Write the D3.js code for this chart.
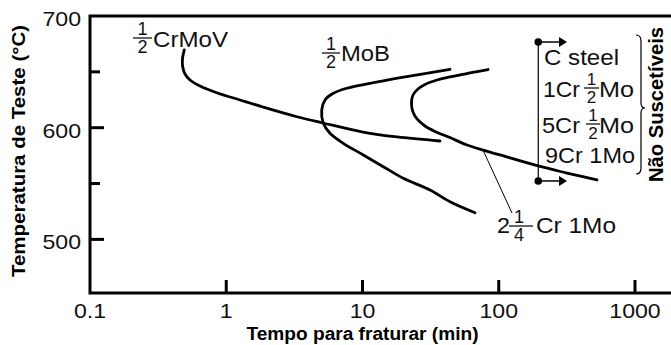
<!DOCTYPE html>
<html><head><meta charset="utf-8">
<script src="https://cdn.jsdelivr.net/npm/d3@7"></script>
<style>html,body{margin:0;padding:0;background:#fff;}svg{display:block;font-family:"Liberation Sans",Arial,sans-serif;}</style>
</head><body>
<svg id="chart" width="671" height="345"></svg>
<script>
// ---- data (time in min, temperature in °C) ----
const crmovTime = [0.492, 0.478, 0.479, 0.498, 0.542, 0.642, 0.851, 1.262, 1.861, 3.306, 5.13, 10.09, 17.92, 37.05];
const crmovTemp = [669.6, 662.4, 654.6, 648.1, 642.7, 637.3, 631.3, 624.8, 618.5, 609.8, 604.2, 596.1, 591.7, 588.1];

const mobTime = [43.87, 21.11, 11.35, 7.66, 6.11, 5.31, 5.02, 5.16, 5.77, 7.23, 10.14, 14.21, 19.93, 31.29, 43.87, 66.94];
const mobTemp = [652.3, 645.7, 639.7, 635.3, 630.8, 624.8, 615.8, 603.9, 595.0, 586.0, 575.6, 565.1, 554.7, 544.2, 533.7, 523.9];

const crmoTime = [83.4, 61.5, 43.87, 35.22, 28.75, 25.55, 23.47, 22.88, 23.47, 25.12, 28.75, 34.05, 43.87, 58.48, 102.1, 200.9, 316.9, 526.2];
const crmoTemp = [652.1, 649.0, 645.4, 642.7, 638.7, 634.6, 629.3, 621.2, 614.1, 607.8, 601.5, 596.6, 591.2, 584.5, 575.6, 565.3, 559.4, 553.2];

// legend bracket (time, temperatures) and leader line
const bracketTime = 195, bracketArrowTime = 317;
const bracketTemps = [676.7, 552.3];
const leaderTime = [76.6, 125.1];
const leaderTemp = [580.0, 523.6];

const xTickValues = [0.1, 1, 10, 100, 1000];
const xTickLabels = ["0.1", "1", "10", "100", "1000"];
const yTickValues = [500, 550, 600, 650, 700];
const yLabelValues = [500, 600, 700];
const yTickLabels = ["500", "600", "700"];

// ---- scales ----
const svg = d3.select("#chart");
const x = d3.scaleLog().domain([0.1, 1000]).range([90, 635]);
const y = d3.scaleLinear().domain([452, 700]).range([293, 16]);
const xEnd = 672;
const ink = "#111";
const STRETCH = 1.1;
function widen(sel, f) {
  sel.each(function () {
    const len = this.getComputedTextLength();
    d3.select(this).attr("textLength", len * (f || STRETCH)).attr("lengthAdjust", "spacingAndGlyphs");
  });
  return sel;
}

// ---- curves ----
const line = d3.line().x(d => x(d[0])).y(d => y(d[1])).curve(d3.curveCatmullRom.alpha(0.5));
const series = [
  d3.zip(crmovTime, crmovTemp),
  d3.zip(mobTime, mobTemp),
  d3.zip(crmoTime, crmoTemp)
];
svg.append("g").selectAll("path").data(series).join("path")
  .attr("d", line).attr("fill", "none").attr("stroke", "#000")
  .attr("stroke-width", 2.8).attr("stroke-linecap", "round").attr("stroke-linejoin", "round");

// leader line
svg.append("line")
  .attr("x1", x(leaderTime[0])).attr("y1", y(leaderTemp[0]))
  .attr("x2", x(leaderTime[1])).attr("y2", y(leaderTemp[1]))
  .attr("stroke", "#000").attr("stroke-width", 1);

// ---- axes frame ----
const frame = svg.append("g").attr("stroke", "#000").attr("stroke-width", 3).attr("fill", "none");
frame.append("path").attr("d", `M${xEnd},${y(700)}H${x(0.1)}V${y(452)}H${xEnd}`).attr("stroke-linejoin", "miter");

// y ticks (inward)
frame.selectAll(".yt").data(yTickValues.filter(v => v < 700)).join("line")
  .attr("x1", x(0.1)).attr("x2", v => x(0.1) + (yLabelValues.includes(v) ? 14 : 10))
  .attr("y1", v => y(v)).attr("y2", v => y(v));
// x ticks (inward)
frame.selectAll(".xt").data(xTickValues.slice(1)).join("line")
  .attr("x1", v => x(v)).attr("x2", v => x(v))
  .attr("y1", y(452)).attr("y2", y(452) - 13);

// tick labels
widen(svg.append("g").selectAll("text").data(yLabelValues).join("text")
  .attr("x", 81).attr("y", v => y(v) + 10).attr("text-anchor", "end")
  .attr("font-size", 21).attr("fill", ink).text((v, i) => yTickLabels[i]));
widen(svg.append("g").selectAll("text").data(xTickValues).join("text")
  .attr("x", v => x(v)).attr("y", 318).attr("text-anchor", "middle")
  .attr("font-size", 21).attr("fill", ink).text((v, i) => xTickLabels[i]));

// axis titles
svg.append("text").attr("x", x(10)).attr("y", 340).attr("text-anchor", "middle")
  .attr("font-size", 18).attr("font-weight", "bold").attr("fill", "#000")
  .attr("textLength", 232).attr("lengthAdjust", "spacingAndGlyphs")
  .text("Tempo para fraturar (min)");
svg.append("text").attr("transform", "translate(25,151) rotate(-90)").attr("text-anchor", "middle")
  .attr("font-size", 18).attr("font-weight", "bold").attr("fill", "#000")
  .attr("textLength", 252).attr("lengthAdjust", "spacingAndGlyphs")
  .text("Temperatura de Teste (°C)");

// ---- labels with fractions ----
const lab = svg.append("g").attr("fill", ink);
function txt(px, py, s, w) {
  const t = lab.append("text").attr("x", px).attr("y", py).attr("font-size", 22).text(s);
  if (w) t.attr("textLength", w).attr("lengthAdjust", "spacingAndGlyphs");
}
function frac(x0, x1, barY, num, den, cx, fs) {
  const c = cx == null ? (x0 + x1) / 2 : cx;
  const size = fs || 18;
  lab.append("line").attr("x1", x0).attr("x2", x1).attr("y1", barY).attr("y2", barY)
    .attr("stroke", ink).attr("stroke-width", 1.3);
  lab.append("text").attr("x", c).attr("y", barY - 3).attr("text-anchor", "middle").attr("font-size", size).text(num);
  lab.append("text").attr("x", c).attr("y", barY + 2.4 + size * 0.716).attr("text-anchor", "middle").attr("font-size", size).text(den);
}
// 1/2 CrMoV
frac(133, 152, 38, "1", "2");
txt(153, 47, "CrMoV", 75);
// 1/2 MoB
frac(322, 340, 53, "1", "2");
txt(341, 61, "MoB", 49);
// legend list
txt(544, 65, "C steel", 75);
txt(543, 97, "1Cr", 37);
frac(584, 599, 88, "1", "2", null, 17);
txt(599, 97, "Mo", 35);
txt(542, 133, "5Cr", 38);
frac(586, 600, 124, "1", "2", null, 17);
txt(599, 133, "Mo", 35);
txt(545, 163, "9Cr 1Mo", 90);
// 2 1/4 Cr 1Mo
txt(497, 233, "2", 13);
frac(509, 533, 226, "1", "4", 519);
txt(536, 233, "Cr 1Mo", 80);

// ---- bracket with arrows ----
const bx = x(bracketTime), ax = x(bracketArrowTime);
const br = svg.append("g");
br.append("line").attr("x1", bx).attr("x2", bx).attr("y1", y(bracketTemps[0])).attr("y2", y(bracketTemps[1]))
  .attr("stroke", "#000").attr("stroke-width", 1.2);
bracketTemps.forEach(t => {
  const yy = y(t);
  br.append("circle").attr("cx", bx).attr("cy", yy).attr("r", 3.8).attr("fill", "#000");
  br.append("line").attr("x1", bx).attr("x2", ax - 6).attr("y1", yy).attr("y2", yy).attr("stroke", "#000").attr("stroke-width", 1.5);
  br.append("path").attr("d", `M${ax},${yy}L${ax - 8},${yy - 5}L${ax - 8},${yy + 5}Z`).attr("fill", "#000");
});

// curly brace
const bt = 35, bb = 174, bm = 108, bxb = 641;
svg.append("path")
  .attr("d", `M${bxb - 5},${bt} Q${bxb},${bt} ${bxb},${bt + 6} V${bm - 5} Q${bxb},${bm} ${bxb + 4},${bm} Q${bxb},${bm} ${bxb},${bm + 5} V${bb - 6} Q${bxb},${bb} ${bxb - 5},${bb}`)
  .attr("fill", "none").attr("stroke", "#000").attr("stroke-width", 1.2);

svg.append("text").attr("transform", "translate(663,104.5) rotate(-90)").attr("text-anchor", "middle")
  .attr("font-size", 20).attr("font-weight", "bold").attr("fill", "#000")
  .attr("textLength", 155).attr("lengthAdjust", "spacingAndGlyphs")
  .text("Não Suscetíveis");
</script>
</body></html>
